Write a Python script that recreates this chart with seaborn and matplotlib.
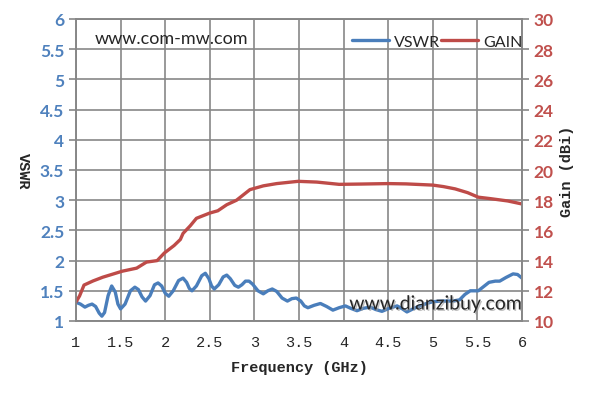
import numpy as np
import pandas as pd
import seaborn as sns
import matplotlib.pyplot as plt
import matplotlib.patheffects as pe

# VSWR readings
vswr_freq = [1.00, 1.05, 1.10, 1.14, 1.18, 1.22, 1.26, 1.29, 1.32, 1.36, 1.40, 1.44, 1.47, 1.50,
             1.55, 1.61, 1.66, 1.70, 1.74, 1.78, 1.83, 1.88, 1.92, 1.96, 2.00, 2.04, 2.09, 2.15,
             2.20, 2.24, 2.27, 2.30, 2.35, 2.41, 2.45, 2.49, 2.52, 2.55, 2.60, 2.65, 2.69, 2.73,
             2.78, 2.82, 2.86, 2.90, 2.94, 2.98, 3.04, 3.10, 3.15, 3.20, 3.25, 3.31, 3.37, 3.42,
             3.47, 3.52, 3.56, 3.60, 3.67, 3.74, 3.81, 3.88, 3.95, 4.02, 4.08, 4.15, 4.22, 4.30,
             4.36, 4.43, 4.51, 4.60, 4.66, 4.71, 4.79, 4.86, 4.93, 5.00, 5.11, 5.22, 5.30, 5.36,
             5.42, 5.51, 5.57, 5.63, 5.70, 5.75, 5.82, 5.90, 5.95, 6.00]
vswr = [1.31, 1.28, 1.23, 1.26, 1.28, 1.24, 1.13, 1.08, 1.14, 1.42, 1.58, 1.48, 1.28, 1.20,
        1.28, 1.50, 1.56, 1.52, 1.40, 1.33, 1.42, 1.60, 1.63, 1.58, 1.46, 1.41, 1.50, 1.67,
        1.71, 1.64, 1.54, 1.50, 1.58, 1.75, 1.79, 1.70, 1.58, 1.53, 1.60, 1.73, 1.76, 1.70,
        1.59, 1.56, 1.60, 1.66, 1.66, 1.61, 1.50, 1.45, 1.50, 1.53, 1.49, 1.38, 1.33, 1.37,
        1.38, 1.33, 1.25, 1.22, 1.26, 1.29, 1.24, 1.18, 1.22, 1.25, 1.21, 1.17, 1.21, 1.23,
        1.19, 1.16, 1.21, 1.25, 1.20, 1.15, 1.21, 1.25, 1.29, 1.32, 1.33, 1.33, 1.35, 1.44,
        1.50, 1.50, 1.57, 1.64, 1.66, 1.66, 1.72, 1.78, 1.77, 1.71]

# Gain readings (dBi)
gain_freq = [1.00, 1.04, 1.09, 1.19, 1.30, 1.41, 1.52, 1.68, 1.79, 1.91, 1.99, 2.10, 2.17, 2.20,
             2.28, 2.35, 2.50, 2.59, 2.69, 2.80, 2.95, 3.10, 3.25, 3.49, 3.70, 3.95, 4.20, 4.50,
             4.70, 5.00, 5.12, 5.25, 5.39, 5.51, 5.65, 5.84, 6.00]
gain = [11.26, 11.66, 12.38, 12.65, 12.90, 13.10, 13.30, 13.50, 13.90, 14.00, 14.50, 15.00, 15.40,
        15.80, 16.30, 16.80, 17.15, 17.30, 17.70, 18.00, 18.70, 18.95, 19.10, 19.25, 19.20, 19.05,
        19.07, 19.10, 19.08, 19.00, 18.90, 18.75, 18.50, 18.20, 18.10, 17.95, 17.75]

x_ticks = np.arange(1, 6.01, 0.5)
vswr_ticks = np.arange(1, 6.01, 0.5)
gain_ticks = np.arange(10, 30.1, 2)

blue = '#4A7EBB'
red = '#BE4B48'
grid = '#878787'

sns.set_style("white")
plt.rcParams['font.family'] = ['Lato', 'DejaVu Sans']

fig = plt.figure(figsize=(5.94, 4.02), dpi=100)
ax = fig.add_axes([76/594, 80/402, 446/594, 302/402])
ax2 = ax.twinx()

sns.lineplot(x=vswr_freq, y=vswr, ax=ax, color=blue, lw=2.4, label='VSWR')
sns.lineplot(x=gain_freq, y=gain, ax=ax2, color=red, lw=2.4, label='GAIN')

ax.set_xlim(1, 6)
ax.set_ylim(1, 6)
ax2.set_ylim(10, 30)
ax.set_xticks(x_ticks)
ax.set_xticklabels([f'{t:g}' for t in x_ticks], family='Liberation Mono', fontsize=11)
ax.set_yticks(vswr_ticks)
ax.set_yticklabels([f'{t:g}' for t in vswr_ticks], color='#4F81BD', fontsize=12.5, fontweight='bold')
ax2.set_yticks(gain_ticks)
ax2.set_yticklabels([f'{t:g}' for t in gain_ticks], color='#C0504D', fontsize=12.5, fontweight='bold')

ax.grid(True, color=grid, lw=1.2)
ax.set_axisbelow(True)
for a in (ax, ax2):
    for s in a.spines.values():
        s.set_color(grid)
        s.set_linewidth(1.2)
    a.tick_params(length=5, width=1.2, color=grid, direction='out')
ax.tick_params(axis='x', pad=5)

ax.set_xlabel('Frequency (GHz)', family='Liberation Mono', fontweight='bold', fontsize=11, labelpad=8)
ax.set_ylabel('VSWR', family='Liberation Mono', fontweight='bold', fontsize=11, rotation=-90,
              va='center', labelpad=12)
ax2.set_ylabel('Gain (dBi)', family='Liberation Mono', fontweight='bold', fontsize=11, labelpad=4)

ax.get_legend().remove()
ax2.get_legend().remove()
h1, l1 = ax.get_legend_handles_labels()
h2, l2 = ax2.get_legend_handles_labels()
ax2.legend(h1 + h2, l1 + l2, loc='center', bbox_to_anchor=(0.81, 0.925), ncol=2, frameon=False,
           fontsize=11.5, handlelength=2.3, handletextpad=0.3, columnspacing=0.1)

fig.text(95/594, 1 - 39/402, 'www.com-mw.com', fontsize=13, va='center', ha='left')
fig.text(523/594, 1 - 305/402, 'www.dianzibuy.com', fontsize=14, va='center', ha='right',
         path_effects=[pe.withSimplePatchShadow(offset=(1, -1), shadow_rgbFace='#999999', alpha=0.6)])

fig.savefig('out.png', dpi=100)
